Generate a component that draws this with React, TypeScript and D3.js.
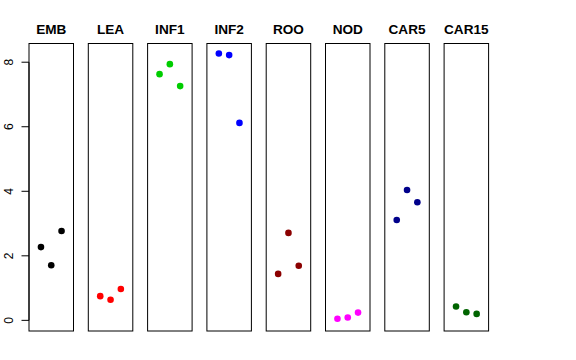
import React from "react";
import * as d3 from "d3";

const categories = ["EMB", "LEA", "INF1", "INF2", "ROO", "NOD", "CAR5", "CAR15"];
const colors = ["#000000", "#FF0000", "#00CD00", "#0000FF", "#8B0000", "#FF00FF", "#00008B", "#006400"];
const EMB = [2.27, 1.71, 2.77];
const LEA = [0.75, 0.64, 0.97];
const INF1 = [7.63, 7.94, 7.26];
const INF2 = [8.27, 8.22, 6.12];
const ROO = [1.44, 2.71, 1.69];
const NOD = [0.05, 0.09, 0.24];
const CAR5 = [3.11, 4.04, 3.66];
const CAR15 = [0.43, 0.25, 0.2];
const series = [EMB, LEA, INF1, INF2, ROO, NOD, CAR5, CAR15];
const yTicks = [0, 2, 4, 6, 8];
const yDomain = [-0.33, 8.58];
const xDomain = [-0.16, 4.16];

export default function App() {
  const W = 576, H = 360;
  const top = 43.5, bottom = 331;
  const left0 = 29, pitch = 59.3, pw = 44.5;
  const y = d3.scaleLinear().domain(yDomain).range([bottom, top]);
  const font = "Liberation Sans, Arial, Helvetica, sans-serif";
  return (
    <svg width={W} height={H} style={{ position: "absolute", left: 0, top: 0, background: "#fff" }} fontFamily={font}>
      {categories.map((c, i) => {
        const x0 = left0 + i * pitch;
        const x = d3.scaleLinear().domain(xDomain).range([x0, x0 + pw]);
        return (
          <g key={c}>
            <rect x={x0} y={top} width={pw} height={bottom - top} fill="none" stroke="#000" strokeWidth={1} />
            <text x={x0 + pw / 2} y={34} textAnchor="middle" fontWeight="bold" fontSize={13.6}>{c}</text>
            {series[i].map((v, j) => (
              <circle key={j} cx={x(j + 1)} cy={y(v)} r={3.3} fill={colors[i]} />
            ))}
          </g>
        );
      })}
      <g>
        <line x1={left0} x2={left0} y1={y(0)} y2={y(8)} stroke="#000" />
        {yTicks.map((t) => (
          <g key={t}>
            <line x1={left0 - 7.5} x2={left0} y1={y(t)} y2={y(t)} stroke="#000" />
            <text transform={`translate(12.5,${y(t)}) rotate(-90)`} textAnchor="middle" fontSize={12}>{t}</text>
          </g>
        ))}
      </g>
    </svg>
  );
}
